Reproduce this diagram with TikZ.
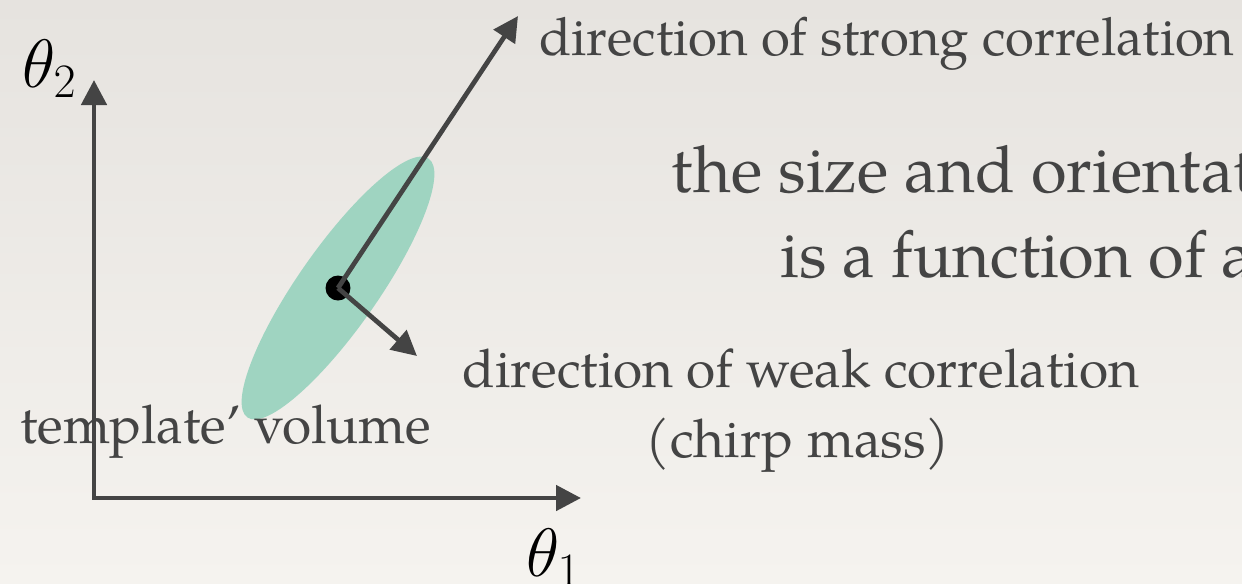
\documentclass[tikz,border=0pt]{standalone}
\usepackage{fix-cm}
\usepackage{fontspec}
\setmainfont{TeX Gyre Pagella}
\usetikzlibrary{arrows.meta,positioning}

\definecolor{hinten}{HTML}{E6E3DF}
\definecolor{vorne}{HTML}{F5F3EF}
\definecolor{tinte}{HTML}{444444}
\definecolor{blase}{HTML}{9FD4C1}

\def\gross{\fontsize{37}{44}\selectfont}
\def\mittel{\fontsize{30.3}{36}\selectfont}
\def\oben{\fontsize{30}{36}\selectfont}
\def\achsenfont{\fontsize{39}{46}\selectfont}

\tikzset{
	schrift/.style={text=tinte, inner sep=0pt},
}

\begin{document}
\begin{tikzpicture}[x=0.02cm,y=-0.02cm,>={Triangle[length=0.5cm,width=0.5cm]},line width=2.7pt]
\shade[top color=hinten,bottom color=vorne] (0,0) rectangle (1242,583);
\useasboundingbox (0,0) rectangle (1242,583);

\coordinate (ursprung) at (94,498);
\coordinate (yspitze) at (94,80);
\coordinate (xspitze) at (581,498);
\coordinate (mitte) at (338,288);
\coordinate (stark) at (518,16);
\coordinate (schwach) at (417,356);

% Fehlerellipse
\fill[color=blase,rotate around={55:(mitte)}] (mitte) ellipse[x radius=3.16cm, y radius=0.8cm];

% Achsen
\draw[<->,color=tinte] (yspitze) -- (ursprung) -- (xspitze);
\node[anchor=base west,inner sep=0pt] (theta2) at (20,87) {\achsenfont$\theta_2$};
\node[anchor=base west,inner sep=0pt] (theta1) at (524,576) {\achsenfont$\theta_1$};

% Mittelpunkt und Richtungen
\node[circle,fill=black,inner sep=0pt,minimum size=0.5cm] (kern) at (mitte) {};
\draw[->,color=tinte] (kern.center) -- (stark);
\draw[->,color=tinte] (kern.center) -- (schwach);

\node[schrift,anchor=base west] (starktext) at (537,55) {\oben direction of strong correlation};
\node[schrift,anchor=base west] (zeile1) at (669,192) {\gross the size and orientat};
\node[schrift,anchor=base west] (zeile2) at (778,277) {\gross is a function of a};
\node[schrift,anchor=base] (schwachtext) at (801,387) {\mittel direction of weak correlation};
\node[schrift,anchor=base] (chirp) at (798,457) {\mittel (chirp mass)};
\node[schrift,anchor=base west] (volumen) at (18,443) {\mittel template’ volume};
\end{tikzpicture}
\end{document}
